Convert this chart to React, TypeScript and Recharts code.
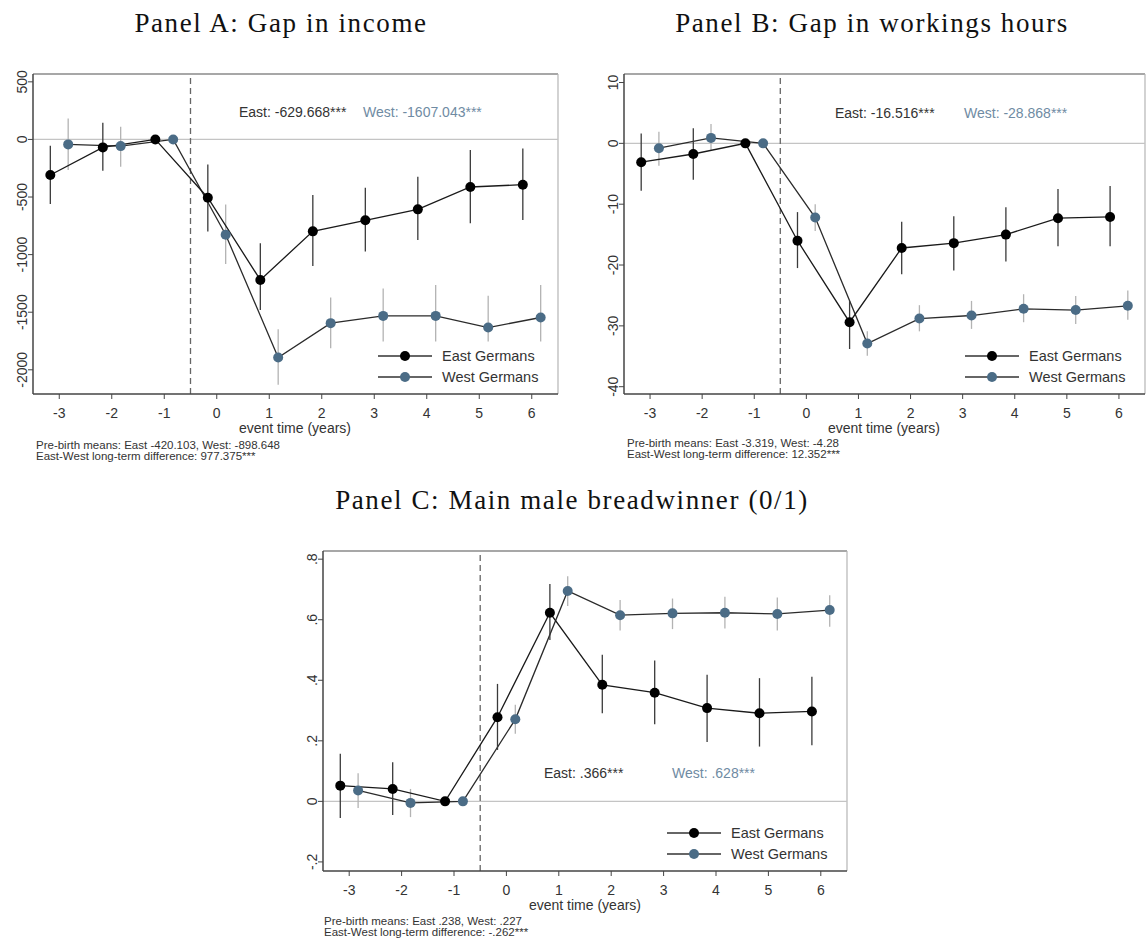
import React from 'react';
import { ComposedChart, Line, XAxis, YAxis, ErrorBar, ReferenceLine, Legend } from 'recharts';

// event time (years), the same for every panel
const eventTimes = [-3, -2, -1, 0, 1, 2, 3, 4, 5, 6];

// Panel A: gap in income
const incomeEast = [-309, -69, 0, -506, -1220, -798, -702, -607, -413, -393];
const incomeEastLow = [-561, -272, 0, -800, -1480, -1098, -974, -873, -728, -700];
const incomeEastHigh = [-55, 145, 0, -217, -902, -483, -419, -324, -92, -78];
const incomeWest = [-43, -58, 0, -827, -1893, -1595, -1532, -1532, -1633, -1546];
const incomeWestLow = [-266, -237, 0, -1081, -2130, -1812, -1754, -1754, -1754, -1754];
const incomeWestHigh = [182, 110, 0, -564, -1647, -1373, -1295, -1263, -1358, -1263];
const incomeTicks = [500, 0, -500, -1000, -1500, -2000];

// Panel B: gap in working hours
const hoursEast = [-3.1, -1.75, 0, -16.0, -29.4, -17.2, -16.4, -15.0, -12.3, -12.1];
const hoursEastLow = [-7.8, -6.0, 0, -20.5, -33.8, -21.5, -20.9, -19.4, -16.9, -16.9];
const hoursEastHigh = [1.6, 2.5, 0, -11.3, -25.9, -12.9, -12.0, -10.5, -7.5, -7.0];
const hoursWest = [-0.8, 0.9, 0, -12.2, -32.9, -28.8, -28.3, -27.2, -27.4, -26.7];
const hoursWestLow = [-3.7, -1.2, 0, -14.4, -34.9, -30.9, -30.5, -29.4, -29.7, -29.0];
const hoursWestHigh = [1.9, 3.2, 0, -10.0, -30.9, -26.6, -25.9, -24.8, -25.1, -24.2];
const hoursTicks = [10, 0, -10, -20, -30, -40];

// Panel C: main male breadwinner (0/1)
const breadEast = [0.052, 0.041, 0, 0.278, 0.623, 0.385, 0.359, 0.308, 0.291, 0.297];
const breadEastLow = [-0.055, -0.045, 0, 0.170, 0.533, 0.291, 0.255, 0.196, 0.181, 0.185];
const breadEastHigh = [0.157, 0.129, 0, 0.388, 0.718, 0.484, 0.465, 0.418, 0.407, 0.412];
const breadWest = [0.036, -0.005, 0, 0.271, 0.695, 0.615, 0.621, 0.623, 0.619, 0.632];
const breadWestLow = [-0.022, -0.052, 0, 0.223, 0.645, 0.564, 0.569, 0.571, 0.564, 0.577];
const breadWestHigh = [0.093, 0.041, 0, 0.319, 0.744, 0.665, 0.670, 0.676, 0.673, 0.681];
const breadTicks = [0.8, 0.6, 0.4, 0.2, 0, -0.2];

const EAST_SHIFT = -0.17;
const WEST_SHIFT = 0.17;
const EAST_COLOR = '#000000';
const WEST_COLOR = '#4b6c86';
const SANS = '"Liberation Sans", Arial, sans-serif';
const SERIF = '"Liberation Serif", "Times New Roman", serif';

const legendItems = [
  { name: 'East Germans', color: EAST_COLOR },
  { name: 'West Germans', color: WEST_COLOR },
];

function buildSeries(vals: number[], low: number[], high: number[], shift: number) {
  return eventTimes.map((t, i) => ({
    x: t + shift,
    y: vals[i],
    err: [vals[i] - low[i], high[i] - vals[i]],
  }));
}

const fmtInt = (v: number) => String(v);
const fmtFrac = (v: number) => {
  if (v === 0) return '0';
  const s = v.toFixed(1);
  return s.replace(/^(-?)0\./, '$1.');
};

const YTick = (props: any) => {
  const { x, y, payload, fmt } = props;
  return (
    <text x={x} y={y} transform={`rotate(-90 ${x} ${y})`} textAnchor="middle" dy="0.35em"
      fontSize={14} fontFamily={SANS} fill="#333">
      {fmt(payload.value)}
    </text>
  );
};

const LegendBox = () => (
  <svg width={170} height={44}>
    {legendItems.map((it, i) => {
      const cy = 10 + i * 21;
      return (
        <g key={it.name}>
          <line x1={0} x2={54} y1={cy} y2={cy} stroke="#333" strokeWidth={1.3} />
          <circle cx={27} cy={cy} r={5} fill={it.color} />
          <text x={64} y={cy} dy="0.35em" fontSize={14.5} fontFamily={SANS} fill="#333">{it.name}</text>
        </g>
      );
    })}
  </svg>
);

type PanelProps = {
  left: number,
  top: number,
  width: number,
  yAxisWidth: number,
  plotWidth: number,
  east: { x: number, y: number, err: number[] }[],
  west: { x: number, y: number, err: number[] }[],
  yDomain: [number, number],
  yTicks: number[],
  fmt: (v: number) => string,
};

const PLOT_H = 320;
const TOP_M = 14;
const X_AXIS_H = 66;

function EventPanel(p: PanelProps) {
  const height = TOP_M + PLOT_H + X_AXIS_H;
  return (
    <div style={{ position: 'absolute', left: p.left, top: p.top }}>
      <ComposedChart width={p.width} height={height}
        margin={{ top: TOP_M, right: p.width - p.yAxisWidth - p.plotWidth, left: 0, bottom: 0 }}>
        <XAxis dataKey="x" type="number" domain={[-3.5, 6.5]} ticks={eventTimes} allowDataOverflow
          height={X_AXIS_H} tickSize={5} tickMargin={9} interval={0}
          axisLine={{ stroke: '#444', strokeWidth: 1.5 }} tickLine={{ stroke: '#444' }}
          tick={{ fontSize: 14, fontFamily: SANS, fill: '#333' }} />
        <YAxis type="number" domain={p.yDomain} ticks={p.yTicks} allowDataOverflow width={p.yAxisWidth}
          tickSize={5} tickMargin={6} interval={0}
          axisLine={{ stroke: '#444', strokeWidth: 1.5 }} tickLine={{ stroke: '#444' }}
          tick={<YTick fmt={p.fmt} />} />
        <ReferenceLine y={p.yDomain[1]} stroke="#8a8a8a" strokeWidth={1.5} />
        <ReferenceLine x={6.5} stroke="#b5b5b5" strokeWidth={1.2} />
        <ReferenceLine y={0} stroke="#c4c4c4" strokeWidth={1.2} />
        <ReferenceLine x={-0.5} stroke="#666" strokeWidth={1.3} strokeDasharray="6 4" />
        <Line data={p.west} dataKey="y" type="linear" stroke="#2b2b2b" strokeWidth={1.3}
          dot={{ r: 5, fill: WEST_COLOR, stroke: WEST_COLOR, strokeWidth: 0 }} activeDot={false}
          isAnimationActive={false}>
          <ErrorBar dataKey="err" direction="y" width={0} stroke="#b3b3b3" strokeWidth={1.3} />
        </Line>
        <Line data={p.east} dataKey="y" type="linear" stroke="#1a1a1a" strokeWidth={1.3}
          dot={{ r: 5, fill: EAST_COLOR, stroke: EAST_COLOR, strokeWidth: 0 }} activeDot={false}
          isAnimationActive={false}>
          <ErrorBar dataKey="err" direction="y" width={0} stroke="#3a3a3a" strokeWidth={1.3} />
        </Line>
        <Legend layout="vertical" align="center" verticalAlign="middle" content={<LegendBox />}
          wrapperStyle={{ left: p.yAxisWidth + p.plotWidth - 180, top: TOP_M + PLOT_H - 48, width: 170, height: 44 }} />
      </ComposedChart>
    </div>
  );
}

const Txt = (props: { x: number, y: number, size: number, color?: string, family?: string,
  anchor?: 'left' | 'center', spacing?: number, children: React.ReactNode }) => (
  <div style={{
    position: 'absolute', left: props.x, top: props.y, whiteSpace: 'nowrap', lineHeight: 1,
    transform: props.anchor === 'center' ? 'translate(-50%, -50%)' : 'translate(0, -50%)',
    fontSize: props.size, color: props.color ?? '#333', fontFamily: props.family ?? SANS,
    letterSpacing: props.spacing ?? 0,
  }}>{props.children}</div>
);

export default function App() {
  return (
    <div style={{ position: 'absolute', left: 0, top: 0, width: 1146, height: 945, overflow: 'hidden', background: '#fff' }}>
      <Txt x={281} y={23} size={27} family={SERIF} color="#111" anchor="center" spacing={1.6}>Panel A: Gap in income</Txt>
      <Txt x={872} y={23} size={27} family={SERIF} color="#111" anchor="center" spacing={1.6}>Panel B: Gap in workings hours</Txt>
      <Txt x={572} y={500} size={27} family={SERIF} color="#111" anchor="center" spacing={1.6}>Panel C: Main male breadwinner (0/1)</Txt>

      <EventPanel left={0} top={60} width={580} yAxisWidth={33} plotWidth={525}
        east={buildSeries(incomeEast, incomeEastLow, incomeEastHigh, EAST_SHIFT)}
        west={buildSeries(incomeWest, incomeWestLow, incomeWestHigh, WEST_SHIFT)}
        yDomain={[-2210, 568]} yTicks={incomeTicks} fmt={fmtInt} />
      <EventPanel left={590} top={60} width={556} yAxisWidth={34} plotWidth={521}
        east={buildSeries(hoursEast, hoursEastLow, hoursEastHigh, EAST_SHIFT)}
        west={buildSeries(hoursWest, hoursWestLow, hoursWestHigh, WEST_SHIFT)}
        yDomain={[-41.2, 11.4]} yTicks={hoursTicks} fmt={fmtInt} />
      <EventPanel left={290} top={537} width={580} yAxisWidth={33} plotWidth={524}
        east={buildSeries(breadEast, breadEastLow, breadEastHigh, EAST_SHIFT)}
        west={buildSeries(breadWest, breadWestLow, breadWestHigh, WEST_SHIFT)}
        yDomain={[-0.23, 0.827]} yTicks={breadTicks} fmt={fmtFrac} />

      <Txt x={239} y={112} size={14}>East: -629.668***</Txt>
      <Txt x={363} y={112} size={14} color="#6f8ba3">West: -1607.043***</Txt>
      <Txt x={835} y={113} size={14}>East: -16.516***</Txt>
      <Txt x={964} y={113} size={14} color="#6f8ba3">West: -28.868***</Txt>
      <Txt x={544} y={773} size={14}>East: .366***</Txt>
      <Txt x={672} y={773} size={14} color="#6f8ba3">West: .628***</Txt>

      <Txt x={295} y={428} size={14} anchor="center">event time (years)</Txt>
      <Txt x={884} y={428} size={14} anchor="center">event time (years)</Txt>
      <Txt x={585} y={905} size={14} anchor="center">event time (years)</Txt>

      <Txt x={36} y={446} size={11.5}>Pre-birth means: East -420.103, West: -898.648</Txt>
      <Txt x={36} y={457} size={11.5}>East-West long-term difference: 977.375***</Txt>
      <Txt x={627} y={444} size={11.5}>Pre-birth means: East -3.319, West: -4.28</Txt>
      <Txt x={627} y={455} size={11.5}>East-West long-term difference: 12.352***</Txt>
      <Txt x={324} y={922} size={11.5}>Pre-birth means: East .238, West: .227</Txt>
      <Txt x={324} y={933} size={11.5}>East-West long-term difference: -.262***</Txt>
    </div>
  );
}
